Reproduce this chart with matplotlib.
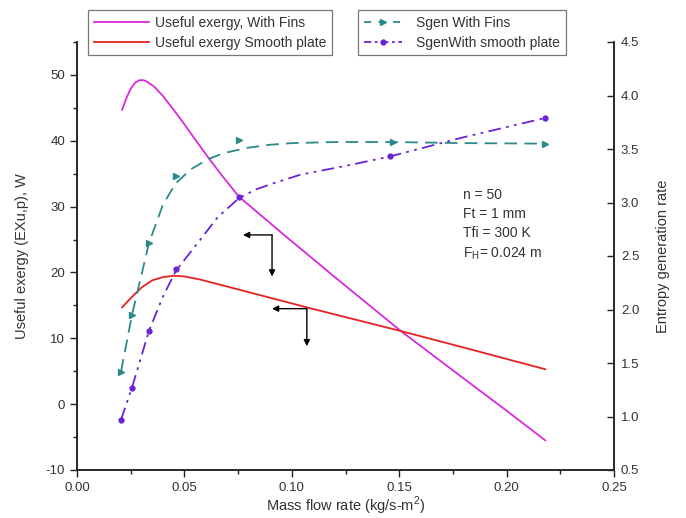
import matplotlib
matplotlib.use("Agg")
import matplotlib.pyplot as plt
from matplotlib.ticker import MultipleLocator, FormatStrFormatter
from matplotlib.lines import Line2D

plt.rcParams['font.family'] = ['Liberation Sans', 'DejaVu Sans']
plt.rcParams['axes.unicode_minus'] = False

# ---- data ----
# Useful exergy with fins (left axis, W)
exf_x = [0.021, 0.023, 0.025, 0.027, 0.029, 0.031, 0.033, 0.036, 0.040, 0.045, 0.050,
         0.055, 0.061, 0.068, 0.0754, 0.0964, 0.120, 0.1508, 0.180, 0.200, 0.218]
exf_y = [44.7, 46.5, 47.9, 48.8, 49.2, 49.2, 48.9, 48.2, 46.8, 44.7, 42.5,
         40.2, 37.5, 34.5, 31.5, 25.7, 19.3, 11.1, 3.9, -1.0, -5.5]
# Useful exergy smooth plate (left axis, W)
exs_x = [0.021, 0.025, 0.030, 0.035, 0.040, 0.045, 0.050, 0.0577, 0.080, 0.1094, 0.1508, 0.180, 0.218]
exs_y = [14.7, 16.1, 17.7, 18.8, 19.3, 19.5, 19.4, 18.9, 17.0, 14.5, 11.1, 8.6, 5.3]
# Sgen with fins (right axis): markers and curve
sgf_pts_x = [0.0205, 0.0256, 0.0335, 0.046, 0.0754, 0.147, 0.218]
sgf_pts_y = [1.42, 1.95, 2.62, 3.25, 3.58, 3.57, 3.55]
sgf_cur_x = [0.0205, 0.0256, 0.0335, 0.040, 0.046, 0.053, 0.0605, 0.068, 0.079, 0.090,
             0.100, 0.120, 0.147, 0.180, 0.218]
sgf_cur_y = [1.42, 1.95, 2.62, 2.98, 3.18, 3.31, 3.40, 3.46, 3.51, 3.54,
             3.555, 3.565, 3.565, 3.555, 3.55]
# Sgen with smooth plate (right axis): markers and curve
sgs_pts_x = [0.0205, 0.0256, 0.0335, 0.046, 0.0754, 0.1457, 0.218]
sgs_pts_y = [0.97, 1.27, 1.80, 2.38, 3.05, 3.43, 3.79]
sgs_cur_x = [0.0205, 0.0256, 0.0335, 0.040, 0.046, 0.0526, 0.0573, 0.0654, 0.0754, 0.083,
             0.090, 0.104, 0.127, 0.1457, 0.180, 0.218]
sgs_cur_y = [0.97, 1.27, 1.80, 2.12, 2.36, 2.53, 2.65, 2.86, 3.04, 3.12,
             3.17, 3.26, 3.35, 3.43, 3.61, 3.79]

labels = ["Useful exergy, With Fins", "Useful exergy Smooth plate",
          "Sgen With Fins", "SgenWith smooth plate"]
info_text = "n = 50\nFt = 1 mm\nTfi = 300 K\nF$_\\mathregular{H}$= 0.024 m"

c_mag = '#d92ad9'
c_red = '#e3231f'
c_teal = '#2b8a8a'
c_pur = '#6b22d6'
txt = '#333333'

fig = plt.figure(figsize=(6.86, 5.18), dpi=100)
ax = fig.add_axes([77/686, 1-470/518, (614-77)/686, (470-42)/518])
ax2 = ax.twinx()

l1, = ax.plot(exf_x, exf_y, color=c_mag, lw=1.3)
l2, = ax.plot(exs_x, exs_y, color=c_red, lw=1.3)

ax2.plot(sgf_cur_x, sgf_cur_y, color=c_teal, lw=1.3, dashes=(7, 4))
ax2.plot(sgf_pts_x, sgf_pts_y, ls='none', marker='>', ms=4, color=c_teal)
ax2.plot(sgs_cur_x, sgs_cur_y, color=c_pur, lw=1.3, dashes=(7, 3, 1.5, 3, 1.5, 3))
ax2.plot(sgs_pts_x, sgs_pts_y, ls='none', marker='o', ms=3.5, color=c_pur)

ax.set_xlim(0, 0.25)
ax.set_ylim(-10, 55)
ax2.set_ylim(0.5, 4.5)
ax.xaxis.set_major_locator(MultipleLocator(0.05))
ax.xaxis.set_minor_locator(MultipleLocator(0.025))
ax.yaxis.set_major_locator(MultipleLocator(10))
ax.yaxis.set_minor_locator(MultipleLocator(5))
ax2.yaxis.set_major_locator(MultipleLocator(0.5))
ax.xaxis.set_major_formatter(FormatStrFormatter('%.2f'))
ax2.yaxis.set_major_formatter(FormatStrFormatter('%.1f'))

for a in (ax, ax2):
    a.spines['top'].set_visible(False)
    for s in a.spines.values():
        s.set_linewidth(1.1)
        s.set_color('#222222')
ax.tick_params(axis='both', which='major', direction='out', length=5, width=1,
               labelsize=9.5, labelcolor=txt, color='#222222')
ax.tick_params(axis='both', which='minor', direction='out', length=3, width=1, color='#222222')
ax2.tick_params(axis='y', which='major', direction='in', length=5, width=1,
                labelsize=9.5, labelcolor=txt, color='#222222', pad=5)

ax.set_xlabel("Mass flow rate (kg/s-m$^\\mathregular{2}$)", fontsize=10.5, color=txt, labelpad=1)
ax.set_ylabel("Useful exergy (EXu,p), W", fontsize=10.5, color=txt, labelpad=12)
ax2.set_ylabel("Entropy generation rate", fontsize=10.5, color=txt, labelpad=12)

# arrows
arrow_kw = dict(arrowstyle='-|>', color='black', lw=1.0, mutation_scale=9, shrinkA=0, shrinkB=0)
ax.annotate('', xy=(0.0773, 25.7), xytext=(0.0908, 25.7), arrowprops=arrow_kw)
ax.annotate('', xy=(0.0908, 19.4), xytext=(0.0908, 25.7), arrowprops=arrow_kw)
ax.annotate('', xy=(0.0908, 14.5), xytext=(0.107, 14.5), arrowprops=arrow_kw)
ax.annotate('', xy=(0.107, 8.8), xytext=(0.107, 14.5), arrowprops=arrow_kw)

ax.text(0.719, 0.658, info_text, transform=ax.transAxes, fontsize=10, color=txt,
        va='top', ha='left', linespacing=1.45)

h3 = Line2D([], [], color=c_teal, lw=1.3, dashes=(4, 4), marker='>', ms=4)
h4 = Line2D([], [], color=c_pur, lw=1.3, dashes=(4, 2, 1.5, 2), marker='o', ms=3.5)
leg1 = fig.legend([l1, l2], labels[:2], loc='upper left', bbox_to_anchor=(88/686, 1-10/518),
                  fontsize=10, frameon=True, fancybox=False, edgecolor='#555555',
                  handlelength=4.0, borderpad=0.4, labelspacing=0.45, handletextpad=0.4,
                  borderaxespad=0)
leg2 = fig.legend([h3, h4], labels[2:], loc='upper left', bbox_to_anchor=(358/686, 1-10/518),
                  fontsize=10, frameon=True, fancybox=False, edgecolor='#555555',
                  handlelength=2.8, borderpad=0.4, labelspacing=0.45, handletextpad=1.0,
                  borderaxespad=0)
for lg in (leg1, leg2):
    lg.get_frame().set_linewidth(0.9)
    for t in lg.get_texts():
        t.set_color(txt)

fig.savefig("out.png", dpi=100)
